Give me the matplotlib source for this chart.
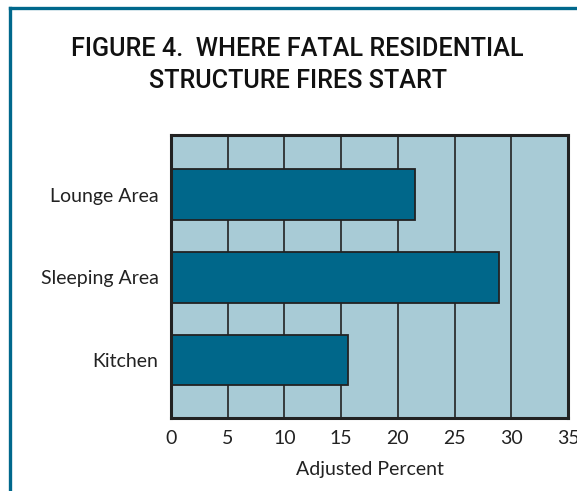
"""
Figure 4: where fatal residential structure fires start.
"""

import matplotlib
matplotlib.use("Agg")
import matplotlib.pyplot as plt
from matplotlib.lines import Line2D

# --- Datos ---
categorias = ["Kitchen", "Sleeping Area", "Lounge Area"]
porcentajes = [15.6, 28.9, 21.5]
ticks_x = [0, 5, 10, 15, 20, 25, 30, 35]

# --- Colores ---
AZUL_BARRA = "#00678a"
FONDO_EJES = "#a8cbd6"
BORDE = "#00688c"
OSCURO = "#222222"

plt.rcParams["font.family"] = ["Lato", "DejaVu Sans"]

fig = plt.figure(figsize=(5.77, 4.91), dpi=100)

# marco azul de la figura (arriba e izquierda)
fig.add_artist(Line2D([10 / 577, 10 / 577], [0, 1 - 8 / 491], transform=fig.transFigure,
                      color=BORDE, lw=2.4, solid_capstyle="projecting"))
fig.add_artist(Line2D([10 / 577, 1.0], [1 - 8 / 491, 1 - 8 / 491], transform=fig.transFigure,
                      color=BORDE, lw=2.4, solid_capstyle="projecting"))

fig.text(0.516, 0.868, "FIGURE 4.  WHERE FATAL RESIDENTIAL\nSTRUCTURE FIRES START",
         ha="center", va="center", fontsize=18.2, linespacing=1.4, color="#111111",
         fontweight="medium", family=["Roboto", "DejaVu Sans"])

ax = fig.add_axes([171 / 577, 1 - 418 / 491, (568 - 171) / 577, (418 - 135) / 491])
ax.set_facecolor(FONDO_EJES)

ax.set_xlim(0, 35)
ax.set_ylim(-0.70, 2.72)
ax.set_xticks(ticks_x)
ax.set_xticklabels([str(t) for t in ticks_x], fontsize=14, color="#222222")

ax.grid(axis="x", color=OSCURO, lw=1.2, zorder=1)
ax.set_axisbelow(True)

ax.barh(range(len(categorias)), porcentajes, height=0.61, color=AZUL_BARRA,
        edgecolor=OSCURO, linewidth=1.3, zorder=3)
ax.set_yticks(range(len(categorias)))
ax.set_yticklabels(categorias, fontsize=14, color="#222222")

ax.tick_params(axis="both", length=0, pad=9)
for lado in ax.spines.values():
    lado.set_linewidth(2.2)
    lado.set_color(OSCURO)
    lado.set_zorder(5)

ax.set_xlabel("Adjusted Percent", fontsize=14, color="#222222", labelpad=10)

fig.savefig("out.png", dpi=100)
